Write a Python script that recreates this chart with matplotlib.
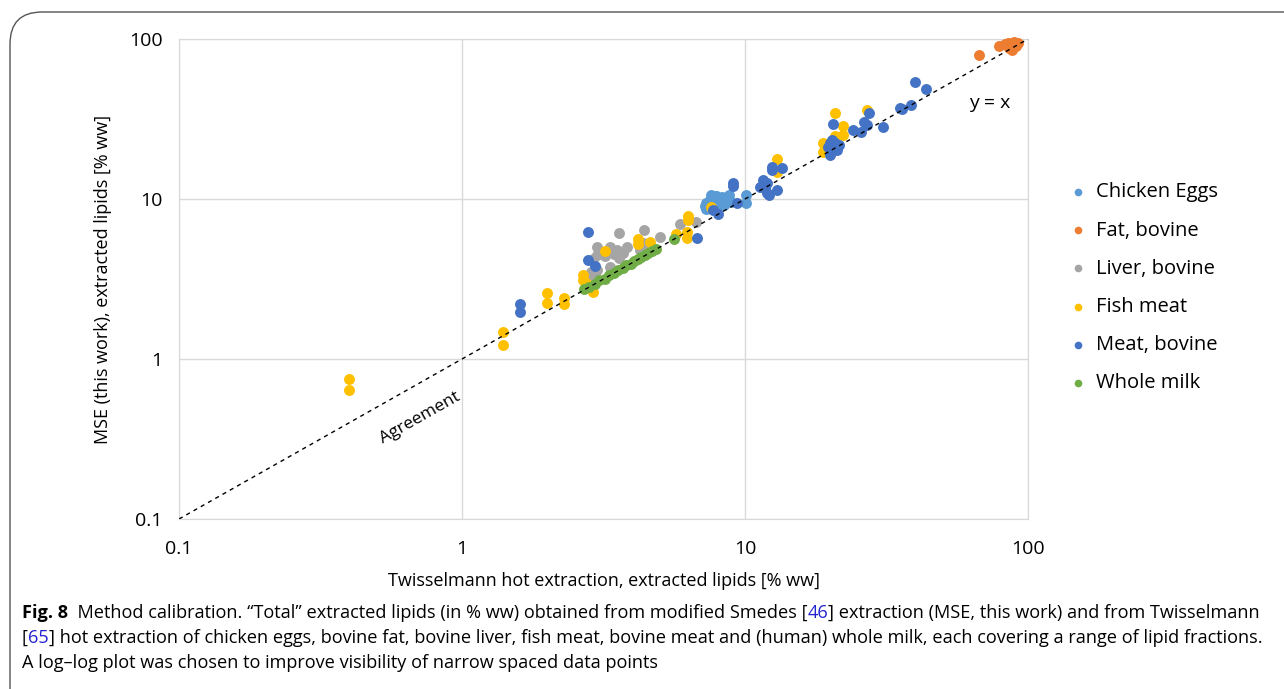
import numpy as np
import matplotlib.pyplot as plt
from matplotlib.patches import FancyBboxPatch

plt.rcParams['font.family'] = ['Open Sans', 'DejaVu Sans']

# data (% ww)
eggs_x = [7.2, 7.3, 7.4, 7.5, 7.6, 7.7, 7.8, 7.9, 8.0, 8.1, 8.2, 8.3, 8.5, 8.7, 8.9, 7.5, 7.9, 8.3, 10.1, 10.1, 7.3,
          8.4, 8.8, 7.6]
eggs_y = [9.0, 9.5, 8.8, 9.9, 9.3, 10.2, 9.7, 10.4, 9.1, 10.0, 9.6, 10.3, 9.9, 10.2, 9.6, 9.6, 10.5, 9.8, 10.6, 9.4, 8.6,
          9.2, 10.6, 10.6]

fat_x = [67, 79, 83, 85, 87, 88, 89, 90, 91, 92, 86, 88]
fat_y = [79, 91, 93, 95, 92, 94, 96, 93, 90, 95, 88, 85]

liver_x = [3.59, 4.40, 5.0, 5.89, 6.71, 3.0, 3.0, 3.33, 3.53, 3.83, 3.6, 2.9, 3.33, 2.9, 3.0,
           4.27, 4.37, 4.6, 3.45, 3.7, 3.2, 2.85]
liver_y = [6.13, 6.40, 5.79, 6.98, 7.18, 5.01, 4.47, 5.0, 4.8, 5.0, 4.3, 4.2, 3.76, 3.26, 3.6,
           4.8, 5.3, 5.0, 4.5, 4.6, 4.4, 3.5]

fish_x = [0.4, 0.4, 1.4, 1.4, 2.0, 2.0, 2.29, 2.29, 2.68, 2.68, 2.9, 3.2, 4.19, 4.19, 4.6, 5.7, 6.24,
          6.3, 6.3, 6.24, 2.75, 7.6, 13.0, 13.0, 18.9, 18.9, 20.8, 20.8, 22.2, 22.2, 27.0]
fish_y = [0.75, 0.64, 1.47, 1.22, 2.59, 2.24, 2.4, 2.22, 3.35, 3.1, 2.63, 4.73, 5.62, 5.2, 5.4, 6.04, 5.7,
          7.83, 7.4, 6.2, 3.0, 8.9, 17.8, 14.7, 22.4, 19.7, 34.5, 24.7, 28.6, 25.1, 36.0]

meat_x = [1.6, 1.6, 2.79, 2.79, 2.95, 6.76, 7.7, 8.0, 9.1, 9.1, 9.35, 11.3, 11.6, 11.8, 12.2, 12.5,
          12.5, 13.5, 12.0, 12.0, 13.0, 20.0, 19.6, 20.8, 21.2, 20.0, 20.5, 24.1, 25.8, 26.4, 27.4,
          27.0, 30.8, 35.3, 35.9, 38.6, 39.9, 43.6, 21.5, 20.3]
meat_y = [2.2, 1.97, 6.2, 4.16, 3.83, 5.7, 8.5, 8.1, 12.6, 12.0, 9.4, 11.9, 13.1, 11.7, 10.6, 15.8,
          15.1, 15.6, 12.6, 10.9, 11.4, 22.4, 21.2, 22.4, 20.2, 18.8, 29.4, 27.0, 26.2, 30.3, 34.5,
          29.0, 28.2, 37.0, 36.5, 38.5, 53.9, 48.7, 21.8, 23.5]

milk_x = [2.7, 2.8, 2.95, 3.05, 3.2, 3.3, 3.45, 3.55, 3.7, 3.8, 3.95, 4.05, 4.2, 4.3, 4.45, 4.55, 4.7, 4.85, 5.6]
milk_y = [2.72, 2.8, 2.95, 3.1, 3.18, 3.35, 3.45, 3.6, 3.7, 3.85, 3.95, 4.1, 4.2, 4.35, 4.45, 4.6, 4.7, 4.85, 5.6]

series = [
    ('Chicken Eggs', eggs_x, eggs_y, '#5B9BD5'),
    ('Fat, bovine', fat_x, fat_y, '#ED7D31'),
    ('Liver, bovine', liver_x, liver_y, '#A5A5A5'),
    ('Fish meat', fish_x, fish_y, '#FFC000'),
    ('Meat, bovine', meat_x, meat_y, '#4472C4'),
    ('Whole milk', milk_x, milk_y, '#70AD47'),
]

W, H = 1284, 689
fig = plt.figure(figsize=(W / 100, H / 100), dpi=100)
ax = fig.add_axes([179 / W, 1 - 519 / H, (1028 - 179) / W, (519 - 39) / H])

# frame around figure + caption
frame = FancyBboxPatch((10 / W, -0.2), 1.2, 1 - 12 / H + 0.2, transform=fig.transFigure,
                       boxstyle='round,pad=0,rounding_size=0.025', fc='none', ec='#555555', lw=1.0,
                       mutation_aspect=W / H)
fig.patches.append(frame)

for name, x, y, c in series:
    ax.scatter(x, y, s=62, color=c, label=name, zorder=3, linewidths=0, clip_on=False)

ax.plot([0.1, 100], [0.1, 100], 'k--', lw=1.0, dashes=(3, 3), zorder=4)

ax.set_xscale('log')
ax.set_yscale('log')
ax.set_xlim(0.1, 100)
ax.set_ylim(0.1, 100)
ax.set_xticks([0.1, 1, 10, 100])
ax.set_xticklabels(['0.1', '1', '10', '100'])
ax.set_yticks([0.1, 1, 10, 100])
ax.set_yticklabels(['0.1', '1', '10', '100'])
ax.minorticks_off()
ax.tick_params(length=0, labelsize=14, pad=12)
ax.tick_params(axis='x', pad=15)
ax.grid(True, color='#D9D9D9', lw=1.0, zorder=0)
for s in ax.spines.values():
    s.set_color('#D9D9D9')

ax.set_xlabel('Twisselmann hot extraction, extracted lipids [% ww]', fontsize=13, labelpad=10)
ax.set_ylabel('MSE (this work), extracted lipids [% ww]', fontsize=13, labelpad=12)

ang = np.degrees(np.arctan((519 - 39) / (1028 - 179)))
ax.text(0.71, 0.43, 'Agreement', rotation=ang, fontsize=12.5, ha='center', va='center', rotation_mode='anchor')
ax.text(73, 39.8, 'y = x', fontsize=14, ha='center', va='center')

ax.legend(loc='upper left', bbox_to_anchor=(1.031, 0.718), frameon=False, fontsize=14.5,
          markerscale=0.7, handletextpad=0.05, handlelength=1.6, labelspacing=0.9, borderaxespad=0)

# caption, pieces placed one after another on each line
cap = dict(fontsize=13.1, va='baseline')
blue = '#2323D0'
renderer = fig.canvas.get_renderer()


def caption_line(y_px, pieces):
    x = 22 / W
    for txt, c, bold in pieces:
        t = fig.text(x, 1 - y_px / H, txt, color=c, fontweight='bold' if bold else 'normal', **cap)
        bb = t.get_window_extent(renderer)
        x = bb.x1 / W


caption_line(618, [('Fig. 8', 'k', True),
                   ('  Method calibration. \u201cTotal\u201d extracted lipids (in % ww) obtained from modified Smedes [', 'k', False),
                   ('46', blue, False),
                   ('] extraction (MSE, this work) and from Twisselmann', 'k', False)])
caption_line(643, [('[', 'k', False), ('65', blue, False),
                   ('] hot extraction of chicken eggs, bovine fat, bovine liver, fish meat, bovine meat and (human) '
                    'whole milk, each covering a range of lipid fractions.', 'k', False)])
caption_line(668, [('A log\u2013log plot was chosen to improve visibility of narrow spaced data points', 'k', False)])

fig.savefig('out.png', dpi=100)
